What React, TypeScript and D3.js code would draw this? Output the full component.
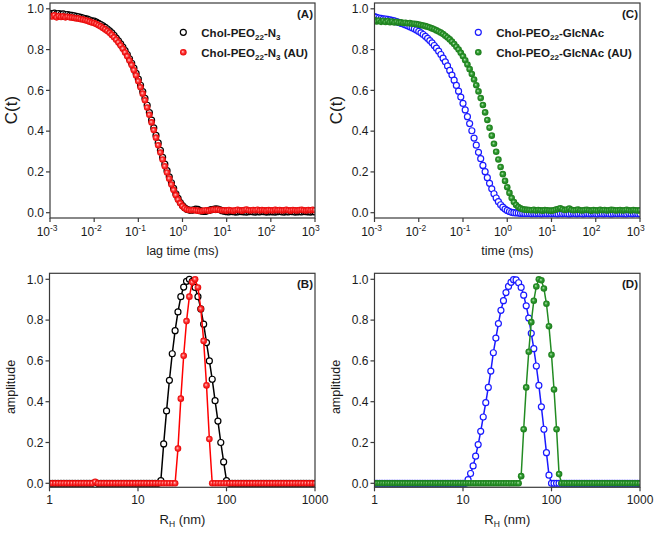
import React from 'react';
import * as d3 from 'd3';

// ---------- DATA ----------
// lag time exponents (log10 of ms) for correlation functions
const lagTimeExp = [
-3.00,-2.95,-2.90,-2.85,-2.80,-2.75,-2.70,-2.65,-2.60,-2.55,
-2.50,-2.45,-2.40,-2.35,-2.30,-2.25,-2.20,-2.15,-2.10,-2.05,
-2.00,-1.95,-1.90,-1.85,-1.80,-1.75,-1.70,-1.65,-1.60,-1.55,
-1.50,-1.45,-1.40,-1.35,-1.30,-1.25,-1.20,-1.15,-1.10,-1.05,
-1.00,-0.95,-0.90,-0.85,-0.80,-0.75,-0.70,-0.65,-0.60,-0.55,
-0.50,-0.45,-0.40,-0.35,-0.30,-0.25,-0.20,-0.15,-0.10,-0.05,
0.00,0.05,0.10,0.15,0.20,0.25,0.30,0.35,0.40,0.45,
0.50,0.55,0.60,0.65,0.70,0.75,0.80,0.85,0.90,0.95,
1.00,1.05,1.10,1.15,1.20,1.25,1.30,1.35,1.40,1.45,
1.50,1.55,1.60,1.65,1.70,1.75,1.80,1.85,1.90,1.95,
2.00,2.05,2.10,2.15,2.20,2.25,2.30,2.35,2.40,2.45,
2.50,2.55,2.60,2.65,2.70,2.75,2.80,2.85,2.90,2.95,
3.00];

const corrN3 = [
0.978,0.976,0.979,0.975,0.977,0.974,0.975,0.972,0.972,0.969,
0.968,0.966,0.963,0.961,0.958,0.955,0.952,0.949,0.945,0.941,
0.940,0.935,0.929,0.923,0.916,0.909,0.901,0.892,0.882,0.870,
0.856,0.843,0.828,0.812,0.795,0.776,0.755,0.733,0.709,0.683,
0.655,0.625,0.594,0.561,0.527,0.491,0.454,0.416,0.379,0.342,
0.306,0.271,0.238,0.206,0.176,0.147,0.119,0.093,0.070,0.050,
0.035,0.024,0.017,0.013,0.012,0.014,0.018,0.016,0.010,0.007,
0.006,0.008,0.012,0.015,0.017,0.019,0.018,0.014,0.010,0.007,
0.005,0.004,0.006,0.005,0.003,0.004,0.006,0.005,0.004,0.003,
0.005,0.006,0.004,0.003,0.005,0.004,0.006,0.005,0.003,0.004,
0.005,0.004,0.003,0.005,0.006,0.004,0.003,0.005,0.004,0.006,
0.005,0.003,0.004,0.005,0.004,0.006,0.005,0.004,0.003,0.005,
0.004];

const corrN3AU = [
0.966,0.962,0.968,0.958,0.965,0.960,0.963,0.958,0.961,0.958,
0.957,0.955,0.953,0.952,0.949,0.947,0.944,0.941,0.937,0.933,
0.930,0.925,0.919,0.913,0.906,0.899,0.891,0.882,0.872,0.860,
0.848,0.835,0.820,0.804,0.786,0.767,0.746,0.724,0.699,0.673,
0.645,0.615,0.584,0.551,0.516,0.480,0.443,0.405,0.368,0.331,
0.295,0.261,0.228,0.197,0.167,0.138,0.111,0.086,0.064,0.046,
0.032,0.022,0.016,0.013,0.012,0.013,0.011,0.010,0.008,0.009,
0.011,0.012,0.010,0.013,0.015,0.014,0.016,0.013,0.011,0.012,
0.010,0.013,0.011,0.009,0.012,0.014,0.012,0.010,0.013,0.015,
0.012,0.011,0.013,0.012,0.014,0.011,0.013,0.012,0.010,0.013,
0.012,0.011,0.014,0.012,0.013,0.011,0.012,0.014,0.012,0.010,
0.013,0.012,0.011,0.013,0.014,0.012,0.011,0.013,0.012,0.014,
0.012];

const corrGlc = [
0.962,0.958,0.955,0.953,0.951,0.950,0.948,0.946,0.943,0.941,
0.937,0.933,0.929,0.925,0.921,0.917,0.912,0.907,0.902,0.896,
0.889,0.882,0.874,0.865,0.855,0.844,0.833,0.820,0.807,0.792,
0.776,0.758,0.740,0.720,0.698,0.675,0.650,0.624,0.596,0.567,
0.536,0.504,0.471,0.437,0.402,0.366,0.331,0.296,0.265,0.232,
0.201,0.172,0.144,0.117,0.093,0.072,0.054,0.039,0.027,0.018,
0.011,0.006,0.002,0.000,-0.001,-0.002,-0.003,-0.003,-0.004,-0.004,
-0.004,-0.005,-0.004,-0.005,-0.004,-0.005,-0.005,-0.004,-0.005,-0.004,
-0.005,-0.004,-0.005,-0.006,-0.004,-0.005,-0.004,-0.005,-0.006,-0.005,
-0.004,-0.005,-0.005,-0.004,-0.006,-0.005,-0.004,-0.005,-0.005,-0.004,
-0.005,-0.006,-0.004,-0.005,-0.005,-0.004,-0.005,-0.006,-0.005,-0.004,
-0.005,-0.004,-0.005,-0.005,-0.006,-0.004,-0.005,-0.005,-0.004,-0.005,
-0.005];

const corrGlcAU = [
0.945,0.938,0.943,0.936,0.941,0.935,0.940,0.934,0.938,0.933,
0.936,0.932,0.934,0.930,0.932,0.929,0.930,0.927,0.927,0.925,
0.923,0.920,0.918,0.915,0.912,0.908,0.904,0.900,0.894,0.889,
0.883,0.876,0.868,0.859,0.850,0.839,0.827,0.814,0.800,0.784,
0.767,0.748,0.727,0.704,0.680,0.653,0.625,0.595,0.562,0.528,
0.492,0.455,0.417,0.378,0.338,0.299,0.261,0.224,0.189,0.156,
0.125,0.097,0.072,0.052,0.038,0.028,0.021,0.017,0.015,0.014,
0.013,0.012,0.014,0.011,0.013,0.012,0.010,0.013,0.012,0.011,
0.010,0.012,0.015,0.018,0.022,0.017,0.013,0.016,0.020,0.014,
0.012,0.013,0.015,0.012,0.011,0.013,0.014,0.012,0.010,0.013,
0.012,0.011,0.014,0.012,0.013,0.011,0.012,0.014,0.013,0.011,
0.012,0.013,0.011,0.012,0.014,0.012,0.011,0.013,0.012,0.011,
0.012];

// hydrodynamic radius grid for panel B (nm)
const rhB = [
1,1.077,1.160,1.250,1.346,1.450,1.561,1.682,1.812,1.951,
2.102,2.264,2.438,2.626,2.829,3.047,3.282,3.535,3.807,4.101,
4.417,4.758,5.125,5.520,5.945,6.404,6.897,7.429,8.002,8.619,
9.284,10,10.77,11.60,12.50,13.46,14.50,15.61,16.82,18.12,
19.51,21.02,22.64,24.38,26.26,28.29,30.47,32.82,35.35,38.07,
41.01,44.17,47.58,51.25,55.20,59.45,64.04,68.97,74.29,80.02,
86.19,92.84,100,107.7,116.0,125.0,134.6,145.0,156.1,168.2,
181.2,195.1,210.2,226.4,243.8,262.6,282.9,304.7,328.2,353.5,
380.7,410.1,441.7,475.8,512.5,552.0,594.5,640.4,689.7,742.9,
800.2,861.9,928.4,1000];

const ampN3 = [
0,0,0,0,0,0,0,0,0,0,
0,0,0,0,0,0,-0.006,0,0,0,
0,0,0,0,0,0,0,0,0,0,
0,0,0,0,0,0,0,0,0,0.013,
0.193,0.355,0.505,0.635,0.748,0.840,0.915,0.962,0.990,1.000,
0.990,0.960,0.915,0.855,0.780,0.690,0.600,0.510,0.405,0.305,
0.200,0.105,0.013,0,0,0,0,0,0,0,
0,0,0,0,0,0,0,0,0,0,
0,0,0,0,0,0,0,0,0,0,
0,0,0,0];

const ampN3AU = [
0,0,0,0,0,0,0,0,0,0,
0,0,0,0,0,0,0.007,0,0,0,
0,0,0,0,0,0,0,0,0,0,
0,0,0,0,0,0,0,0,0,0,
0,0,0,0,0,0.170,0.415,0.625,0.795,0.915,
0.985,1.000,0.960,0.855,0.698,0.480,0.217,0,0,0,
0,0,0,0,0,0,0,0,0,0,
0,0,0,0,0,0,0,0,0,0,
0,0,0,0,0,0,0,0,0,0,
0,0,0,0];

// hydrodynamic radius grid for panel D (nm)
const rhD = [
1,1.068,1.141,1.218,1.301,1.389,1.484,1.585,1.693,1.808,
1.931,2.062,2.202,2.352,2.512,2.683,2.865,3.060,3.268,3.490,
3.728,3.981,4.252,4.541,4.850,5.179,5.532,5.908,6.310,6.739,
7.197,7.686,8.209,8.767,9.363,10,10.68,11.41,12.18,13.01,
13.89,14.84,15.85,16.93,18.08,19.31,20.62,22.02,23.52,25.12,
26.83,28.65,30.60,32.68,34.90,37.28,39.81,42.52,45.41,48.50,
51.79,55.32,59.08,63.10,67.39,71.97,76.86,82.09,87.67,93.63,
100,106.8,114.1,121.8,130.1,138.9,148.4,158.5,169.3,180.8,
193.1,206.2,220.2,235.2,251.2,268.3,286.5,306.0,326.8,349.0,
372.8,398.1,425.2,454.1,485.0,517.9,553.2,590.8,631.0,673.9,
719.7,768.6,820.9,876.7,936.3,1000];

const ampGlc = [
0,0,0,0,0,0,0,0,0,0,
0,0,0,0,0,0,0,0,0,0,
0,0,0,0,0,0,0,0,0,0,
0,0,0,0,0,0,0,0.018,0.048,0.085,
0.133,0.190,0.255,0.325,0.395,0.470,0.550,0.640,0.712,0.783,
0.848,0.895,0.935,0.965,0.985,0.998,0.997,0.983,0.960,0.922,
0.870,0.810,0.735,0.660,0.575,0.480,0.375,0.265,0.150,0.040,
0,0,0,0,0,0,0,0,0,0,
0,0,0,0,0,0,0,0,0,0,
0,0,0,0,0,0,0,0,0,0,
0,0,0,0,0,0];

const ampGlcAU = [
0,0,0,0,0,0,0,0,0,0,
0,0,0,0,0,0,0,0,0,0,
0,0,0,0,0,0,0,0,0,0,
0,0,0,0,0,0,0,0,0,0,
0,0,0,0,0,0,0,0,0,0,
0,0,0,0,0,0,0,0,0.035,0.265,
0.470,0.645,0.790,0.895,0.965,1.000,0.995,0.955,0.880,0.770,
0.630,0.460,0.265,0.045,0,0,0,0,0,0,
0,0,0,0,0,0,0,0,0,0,
0,0,0,0,0,0,0,0,0,0,
0,0,0,0,0,0];

const yTickValues = [0, 0.2, 0.4, 0.6, 0.8, 1.0];
const lagTickExps = [-3, -2, -1, 0, 1, 2, 3];
const rhTickValues = [1, 10, 100, 1000];

// ---------- DRAWING ----------
const FONT = "'Liberation Sans', Arial, Helvetica, sans-serif";
const AXIS = '#3a3a3a';
const TXT = '#1a1a1a';

type Series = { xs: number[]; ys: number[]; color: string; filled: boolean; grad?: string; line: boolean };

function PanelPlot(props: {
  id: string; left: number; right: number; top: number; bottom: number;
  yDomain: [number, number]; xDomain: [number, number]; lagAxis: boolean;
  series: Series[]; tag: string;
}) {
  const { id, left, right, top, bottom, yDomain, xDomain, lagAxis, series, tag } = props;
  const x = d3.scaleLog().domain(xDomain).range([left, right]);
  const y = d3.scaleLinear().domain(yDomain).range([bottom, top]);
  const line = d3.line<[number, number]>().x(d => x(d[0])).y(d => y(d[1]));
  return (
    <g>
      <defs>
        <clipPath id={'clip' + id}>
          <rect x={left} y={top} width={right - left} height={bottom - top} />
        </clipPath>
      </defs>
      <g clipPath={`url(#clip${id})`}>
        {series.map((s, si) => {
          const pts: [number, number][] = s.xs.map((xv, i) => [xv, s.ys[i]]);
          return (
            <g key={si}>
              {s.line && <path d={line(pts) || ''} fill="none" stroke={s.color} strokeWidth={1.5} />}
              {pts.map((p, i) =>
                s.filled ? (
                  <circle key={i} cx={x(p[0])} cy={y(p[1])} r={3.3} fill={`url(#${s.grad})`} />
                ) : (
                  <circle key={i} cx={x(p[0])} cy={y(p[1])} r={3.0} fill="#fff" stroke={s.color} strokeWidth={1.2} />
                )
              )}
            </g>
          );
        })}
      </g>
      <rect x={left} y={top} width={right - left} height={bottom - top} fill="none" stroke={AXIS} strokeWidth={1.2} />
      {yTickValues.map(v => (
        <g key={v}>
          <line x1={left - 4} x2={left} y1={y(v)} y2={y(v)} stroke={AXIS} strokeWidth={1.2} />
          <text x={left - 6} y={y(v)} dy="0.36em" textAnchor="end" fontSize={12} fill={TXT} fontFamily={FONT}>
            {v.toFixed(1)}
          </text>
        </g>
      ))}
      {lagAxis
        ? lagTickExps.map(e => (
            <g key={e}>
              <line x1={x(10 ** e)} x2={x(10 ** e)} y1={bottom} y2={bottom + 4} stroke={AXIS} strokeWidth={1.2} />
              <text x={x(10 ** e)} y={bottom + 18} textAnchor="end" fontSize={12} fill={TXT} fontFamily={FONT}>10</text>
              <text x={x(10 ** e)} y={bottom + 12.5} textAnchor="start" fontSize={8.5} fill={TXT} fontFamily={FONT}>{e < 0 ? '-' + Math.abs(e) : String(e)}</text>
            </g>
          ))
        : rhTickValues.map(v => (
            <g key={v}>
              <line x1={x(v)} x2={x(v)} y1={bottom} y2={bottom + 4} stroke={AXIS} strokeWidth={1.2} />
              <text x={x(v)} y={bottom + 16.5} textAnchor="middle" fontSize={12} fill={TXT} fontFamily={FONT}>{v}</text>
            </g>
          ))}
      <text x={right - 2} y={top + 15} textAnchor="end" fontSize={11.5} fontWeight="bold" fill={TXT} fontFamily={FONT}>{tag}</text>
    </g>
  );
}

function Legend(props: { x: number; y: number; items: { label: string; tail: string; au: boolean; color: string; filled: boolean; grad?: string }[] }) {
  return (
    <g>
      {props.items.map((it, i) => {
        const cy = props.y + i * 20;
        return (
          <g key={i}>
            {it.filled ? (
              <circle cx={props.x} cy={cy} r={3.3} fill={`url(#${it.grad})`} />
            ) : (
              <circle cx={props.x} cy={cy} r={3.0} fill="#fff" stroke={it.color} strokeWidth={1.2} />
            )}
            <text x={props.x + 18} y={cy + 4.3} fontSize={11.5} fontWeight="bold" fill={TXT} fontFamily={FONT}>
              {it.label}
              <tspan fontSize={8} dy={3}>22</tspan>
              <tspan dy={-3}>{it.tail}</tspan>
              {it.tail === '-N' && <tspan fontSize={8} dy={3}>3</tspan>}
              {it.au && <tspan dy={it.tail === '-N' ? -3 : 0}> (AU)</tspan>}
            </text>
          </g>
        );
      })}
    </g>
  );
}

export default function App() {
  const lag = lagTimeExp.map(e => 10 ** e);
  const topY: [number, number] = [-0.026, 1.0285];
  const botY: [number, number] = [-0.0196, 1.0294];
  return (
    <svg width={655} height={534} style={{ display: 'block', position: 'absolute', left: 0, top: 0 }} fontFamily={FONT}>
      <defs>
        <radialGradient id="gRed" cx="0.5" cy="0.5" r="0.5" fx="0.4" fy="0.4">
          <stop offset="0" stopColor="#ffd0d0" />
          <stop offset="0.45" stopColor="#ff3a3a" />
          <stop offset="1" stopColor="#e40000" />
        </radialGradient>
        <radialGradient id="gGreen" cx="0.5" cy="0.5" r="0.5" fx="0.4" fy="0.4">
          <stop offset="0" stopColor="#b8e6b8" />
          <stop offset="0.45" stopColor="#2f9a2f" />
          <stop offset="1" stopColor="#1a7a1a" />
        </radialGradient>
      </defs>
      <rect width={655} height={534} fill="#fff" />

      <PanelPlot id="A" left={50} right={315} top={3} bottom={218} yDomain={topY} xDomain={[1e-3, 1e3]} lagAxis tag="(A)"
        series={[
          { xs: lag, ys: corrN3, color: '#000', filled: false, line: false },
          { xs: lag, ys: corrN3AU, color: '#f00', filled: true, grad: 'gRed', line: false },
        ]} />
      <PanelPlot id="C" left={374.5} right={640} top={3} bottom={218} yDomain={topY} xDomain={[1e-3, 1e3]} lagAxis tag="(C)"
        series={[
          { xs: lag, ys: corrGlc, color: '#1a1aff', filled: false, line: false },
          { xs: lag, ys: corrGlcAU, color: '#228b22', filled: true, grad: 'gGreen', line: false },
        ]} />
      <PanelPlot id="B" left={49.5} right={315} top={273.3} bottom={487.3} yDomain={botY} xDomain={[1, 1000]} lagAxis={false} tag="(B)"
        series={[
          { xs: rhB, ys: ampN3, color: '#000', filled: false, line: true },
          { xs: rhB, ys: ampN3AU, color: '#f00', filled: true, grad: 'gRed', line: true },
        ]} />
      <PanelPlot id="D" left={374.5} right={640} top={273.3} bottom={487.3} yDomain={botY} xDomain={[1, 1000]} lagAxis={false} tag="(D)"
        series={[
          { xs: rhD, ys: ampGlc, color: '#1a1aff', filled: false, line: true },
          { xs: rhD, ys: ampGlcAU, color: '#228b22', filled: true, grad: 'gGreen', line: true },
        ]} />

      <Legend x={183.3} y={32.3} items={[
        { label: 'Chol-PEO', tail: '-N', au: false, color: '#000', filled: false },
        { label: 'Chol-PEO', tail: '-N', au: true, color: '#f00', filled: true, grad: 'gRed' },
      ]} />
      <Legend x={478.3} y={32.3} items={[
        { label: 'Chol-PEO', tail: '-GlcNAc', au: false, color: '#1a1aff', filled: false },
        { label: 'Chol-PEO', tail: '-GlcNAc', au: true, color: '#228b22', filled: true, grad: 'gGreen' },
      ]} />

      {/* axis titles */}
      <text transform="translate(17,110) rotate(-90)" textAnchor="middle" fontSize={17} fill={TXT}>C(t)</text>
      <text transform="translate(341.5,110) rotate(-90)" textAnchor="middle" fontSize={17} fill={TXT}>C(t)</text>
      <text x={182.5} y={255} textAnchor="middle" fontSize={12.5} fill={TXT}>lag time (ms)</text>
      <text x={507.3} y={255} textAnchor="middle" fontSize={12.5} fill={TXT}>time (ms)</text>
      <text transform="translate(15,387) rotate(-90)" textAnchor="middle" fontSize={12.5} fill={TXT}>amplitude</text>
      <text transform="translate(339.5,387) rotate(-90)" textAnchor="middle" fontSize={12.5} fill={TXT}>amplitude</text>
      <text x={182.5} y={524} textAnchor="middle" fontSize={13} fill={TXT}>R<tspan fontSize={8.5} dy={3}>H</tspan><tspan dy={-3}> (nm)</tspan></text>
      <text x={507.3} y={524} textAnchor="middle" fontSize={13} fill={TXT}>R<tspan fontSize={8.5} dy={3}>H</tspan><tspan dy={-3}> (nm)</tspan></text>
    </svg>
  );
}
